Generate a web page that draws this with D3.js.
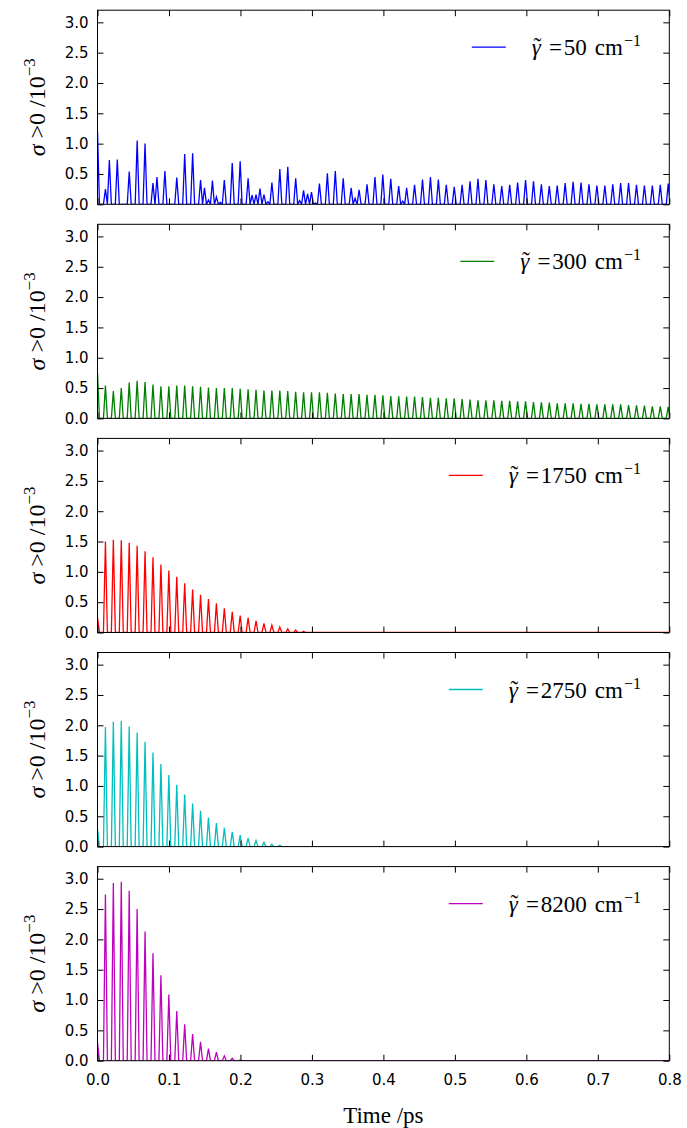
<!DOCTYPE html>
<html>
<head>
<meta charset="utf-8">
<script src="https://cdn.jsdelivr.net/npm/d3@7"></script>
<style>
body { margin: 0; background: #fff; }
.tick text { font-family: "DejaVu Sans", sans-serif; font-size: 15px; fill: #000; }
.tick line { stroke: #000; stroke-width: 1; }
.domain { display: none; }
.serif { font-family: "Liberation Serif", "DejaVu Serif", serif; fill: #000; }
</style>
</head>
<body>
<div id="chart"></div>
<script>
// axis ticks
var xTicks = [0.0, 0.1, 0.2, 0.3, 0.4, 0.5, 0.6, 0.7, 0.8];
var yTicks = [0.0, 0.5, 1.0, 1.5, 2.0, 2.5, 3.0];

// legend labels (wavenumber in cm^-1) and colours
var gammas = ["50", "300", "1750", "2750", "8200"];
var colors = ["#0000ff", "#008000", "#ff0000", "#00bfbf", "#bf00bf"];

// value at t = 0 for each panel
var startVals = [1.20, 0.75, 0.25, 0.29, 0.30];

// oscillation period (ps), peaks of the regular series sit at k * period, k = 1, 2, ...
var period = 0.01109;

// gamma = 50: irregular peaks, time (ps) and height
var blueTimes = [0.0111, 0.0166, 0.0277, 0.0444, 0.0555, 0.0665, 0.0776, 0.0832, 0.0943, 0.1109,
  0.1220, 0.1331, 0.1442, 0.1497, 0.1553, 0.1608, 0.1664, 0.1719, 0.1774, 0.1885,
  0.1996, 0.2107, 0.2163, 0.2218, 0.2273, 0.2329, 0.2384, 0.2440, 0.2551, 0.2662,
  0.2773, 0.2828, 0.2883, 0.2939, 0.2994, 0.3050, 0.3105, 0.3216, 0.3327, 0.3438,
  0.3549, 0.3604, 0.3660, 0.3771, 0.3882, 0.3992, 0.4103, 0.4214, 0.4270, 0.4325,
  0.4436, 0.4547, 0.4658, 0.4769, 0.4880, 0.4991, 0.5101, 0.5212, 0.5323, 0.5434,
  0.5545, 0.5656, 0.5767, 0.5878, 0.5989, 0.6100, 0.6210, 0.6321, 0.6432, 0.6543,
  0.6654, 0.6765, 0.6876, 0.6987, 0.7098, 0.7209, 0.7319, 0.7430, 0.7541, 0.7652,
  0.7763, 0.7874, 0.7985];
var blueVals = [0.25, 0.73, 0.74, 0.54, 1.05, 1.00, 0.35, 0.45, 0.55, 0.44,
  0.83, 0.84, 0.40, 0.27, 0.07, 0.39, 0.12, 0.03, 0.40, 0.68,
  0.71, 0.43, 0.15, 0.16, 0.26, 0.16, 0.04, 0.36, 0.58, 0.62,
  0.43, 0.06, 0.23, 0.17, 0.20, 0.02, 0.34, 0.51, 0.55, 0.43,
  0.27, 0.10, 0.24, 0.33, 0.45, 0.49, 0.42, 0.30, 0.05, 0.27,
  0.32, 0.41, 0.45, 0.41, 0.32, 0.29, 0.32, 0.38, 0.42, 0.40,
  0.33, 0.30, 0.32, 0.36, 0.40, 0.38, 0.33, 0.30, 0.31, 0.35,
  0.37, 0.36, 0.33, 0.31, 0.31, 0.33, 0.35, 0.35, 0.32, 0.31,
  0.31, 0.32, 0.34];

// gamma = 300
var greenPeaks = [0.54, 0.45, 0.50, 0.59, 0.62, 0.60, 0.56, 0.53, 0.53, 0.54,
  0.54, 0.53, 0.52, 0.51, 0.50, 0.50, 0.50, 0.49, 0.48, 0.47,
  0.46, 0.46, 0.46, 0.45, 0.44, 0.43, 0.43, 0.43, 0.42, 0.41,
  0.40, 0.40, 0.40, 0.39, 0.39, 0.38, 0.37, 0.365, 0.36, 0.36,
  0.35, 0.34, 0.34, 0.33, 0.33, 0.32, 0.31, 0.30, 0.30, 0.30,
  0.29, 0.29, 0.28, 0.28, 0.27, 0.265, 0.26, 0.25, 0.25, 0.25,
  0.24, 0.24, 0.23, 0.23, 0.23, 0.23, 0.22, 0.215, 0.21, 0.20,
  0.20, 0.19];

// gamma = 1750
var redPeaks = [1.50, 1.53, 1.52, 1.48, 1.43, 1.34, 1.24, 1.12, 1.02, 0.92,
  0.81, 0.71, 0.62, 0.55, 0.48, 0.40, 0.34, 0.28, 0.24, 0.19,
  0.15, 0.12, 0.09, 0.06, 0.04, 0.02];

// gamma = 2750
var cyanPeaks = [1.97, 2.06, 2.07, 1.98, 1.88, 1.73, 1.55, 1.36, 1.18, 1.02,
  0.86, 0.71, 0.59, 0.48, 0.39, 0.31, 0.24, 0.19, 0.14, 0.10,
  0.07, 0.04, 0.02];

// gamma = 8200
var magentaPeaks = [2.74, 2.93, 2.95, 2.80, 2.50, 2.13, 1.77, 1.41, 1.09, 0.82,
  0.60, 0.44, 0.31, 0.20, 0.14, 0.08, 0.04, 0.01];

// layout
var W = 687, H = 1128;
var left = 97.5, right = 669.3;
var panelTop0 = 10.2, panelStep = 214.1, panelH = 194.1;
var halfWidth = period / 4;   // half width of each spike

var svg = d3.select("#chart").append("svg")
    .attr("width", W)
    .attr("height", H);

var x = d3.scaleLinear().domain([0, 0.8]).range([left, right]);

function regularTimes(n) {
    return d3.range(1, n + 1).map(function(k) { return k * period; });
}

var series = [
    {times: blueTimes, vals: blueVals},
    {times: regularTimes(greenPeaks.length), vals: greenPeaks},
    {times: regularTimes(redPeaks.length), vals: redPeaks},
    {times: regularTimes(cyanPeaks.length), vals: cyanPeaks},
    {times: regularTimes(magentaPeaks.length), vals: magentaPeaks}
];

// build the spiky trace from the peaks
function spikes(s, v0) {
    var pts = [[0, v0], [halfWidth, 0]];
    s.times.forEach(function(t, i) {
        pts.push([t - halfWidth, 0], [t, s.vals[i]], [t + halfWidth, 0]);
    });
    pts.push([0.8, 0]);
    return pts;
}

series.forEach(function(s, i) {
    var top = panelTop0 + i * panelStep;
    var bottom = top + panelH;
    var y = d3.scaleLinear().domain([0, 3.2]).range([bottom, top]);

    var g = svg.append("g");

    g.append("clipPath").attr("id", "clip" + i)
      .append("rect")
        .attr("x", left).attr("y", top)
        .attr("width", right - left).attr("height", panelH);

    var line = d3.line()
        .x(function(d) { return x(d[0]); })
        .y(function(d) { return y(d[1]); });

    g.append("path")
        .datum(spikes(s, startVals[i]))
        .attr("clip-path", "url(#clip" + i + ")")
        .attr("fill", "none")
        .attr("stroke", colors[i])
        .attr("stroke-width", 1.3)
        .attr("stroke-linejoin", "miter")
        .attr("d", line);

    // axes, ticks pointing inwards on all four sides
    g.append("g").attr("transform", "translate(" + left + ",0)")
        .call(d3.axisLeft(y).tickValues(yTicks).tickFormat(d3.format(".1f"))
            .tickSizeInner(-6).tickSizeOuter(0).tickPadding(9));
    g.append("g").attr("transform", "translate(" + right + ",0)")
        .call(d3.axisRight(y).tickValues(yTicks).tickFormat("")
            .tickSizeInner(-6).tickSizeOuter(0));
    g.append("g").attr("transform", "translate(0," + top + ")")
        .call(d3.axisTop(x).tickValues(xTicks).tickFormat("")
            .tickSizeInner(-6).tickSizeOuter(0));
    g.append("g").attr("transform", "translate(0," + bottom + ")")
        .call(d3.axisBottom(x).tickValues(xTicks)
            .tickFormat(i === series.length - 1 ? d3.format(".1f") : "")
            .tickSizeInner(-6).tickSizeOuter(0).tickPadding(14));

    g.append("rect")
        .attr("x", left).attr("y", top)
        .attr("width", right - left).attr("height", panelH)
        .attr("fill", "none").attr("stroke", "#000").attr("stroke-width", 1);

    // y label
    var yl = g.append("text").attr("class", "serif")
        .attr("transform", "translate(45," + (top + panelH / 2) + ") rotate(-90)")
        .attr("text-anchor", "middle")
        .style("font-size", "24px");
    yl.append("tspan").style("font-style", "italic").text("σ");
    yl.append("tspan").text(" >0 /10");
    yl.append("tspan").attr("dy", -10).style("font-size", "17px").text("−3");

    // legend
    var base = top + 45;
    var lg = g.append("text").attr("class", "serif")
        .attr("x", 641).attr("y", base)
        .attr("text-anchor", "end")
        .style("font-size", "23px");
    lg.append("tspan").style("font-style", "italic").text("γ");
    lg.append("tspan").attr("dx", 8).text("=");
    lg.append("tspan").attr("dx", 2).text(gammas[i]);
    lg.append("tspan").attr("dx", 8).text("cm");
    lg.append("tspan").attr("dx", 1).attr("dy", -9).style("font-size", "16px").text("−1");
    var gb = lg.node().getExtentOfChar(0);
    g.append("text").attr("class", "serif")
        .attr("x", gb.x + gb.width / 2 + 1).attr("y", base - 1)
        .attr("text-anchor", "middle")
        .style("font-size", "23px")
        .text("\u02DC");
    var bb = lg.node().getBBox();
    g.append("line")
        .attr("x1", bb.x - 60).attr("x2", bb.x - 26)
        .attr("y1", top + 37).attr("y2", top + 37)
        .attr("stroke", colors[i]).attr("stroke-width", 1.3);
});

// x label
svg.append("text").attr("class", "serif")
    .attr("x", (left + right) / 2).attr("y", 1123)
    .attr("text-anchor", "middle")
    .style("font-size", "23px")
    .text("Time /ps");
</script>
</body>
</html>
